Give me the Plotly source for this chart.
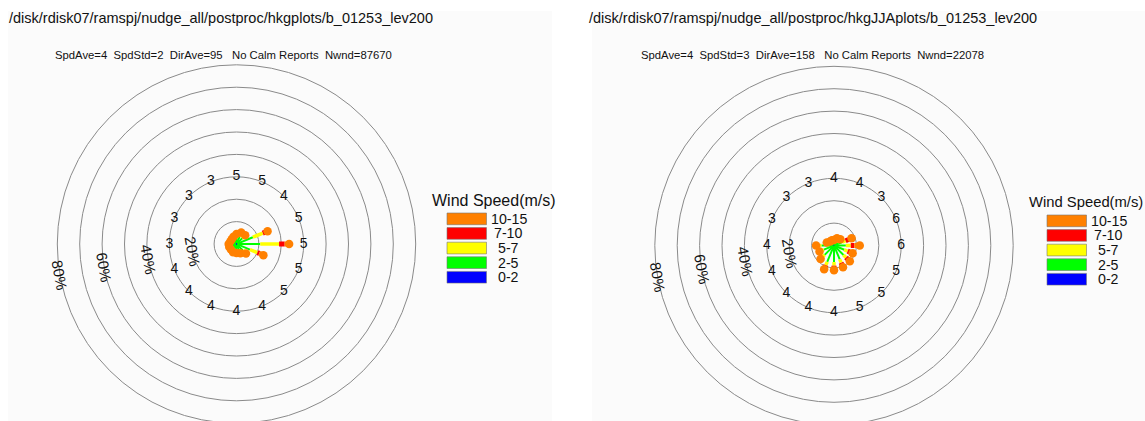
import numpy as np
import plotly.graph_objects as go

W, H = 1145, 421

# ---------------- data ----------------
directions = ["N", "NNE", "NE", "ENE", "E", "ESE", "SE", "SSE",
              "S", "SSW", "SW", "WSW", "W", "WNW", "NW", "NNW"]
dir_deg = [0, 22.5, 45, 67.5, 90, 112.5, 135, 157.5,
           180, 202.5, 225, 247.5, 270, 292.5, 315, 337.5]

speed_classes = ["0-2", "2-5", "5-7", "7-10", "10-15"]
class_colors = ["#0000ff", "#00ff00", "#ffff00", "#ff0000", "#ff8000"]

ring_pct = [10, 20, 30, 40, 50, 60, 70, 80]
ring_label_pct = [20, 40, 60, 80]
ring_label_text = ["20%", "40%", "60%", "80%"]
legend_title = "Wind Speed(m/s)"

# left panel (all data)
left_title = "/disk/rdisk07/ramspj/nudge_all/postproc/hkgplots/b_01253_lev200"
left_stats = "SpdAve=4  SpdStd=2  DirAve=95   No Calm Reports  Nwnd=87670"
left_mean_speed = [5, 5, 4, 5, 5, 5, 5, 4, 4, 4, 4, 4, 3, 3, 3, 3]
left_f02 = [0.4, 0.4, 0.4, 0.5, 0.6, 0.5, 0.4, 0.4, 0.4, 0.4, 0.4, 0.4, 0.5, 0.5, 0.5, 0.4]
left_f25 = [2.6, 3.2, 3.2, 7.4, 10.0, 6.0, 3.6, 2.8, 2.6, 2.6, 2.3, 2.3, 2.3, 2.0, 2.0, 2.3]
left_f57 = [0.7, 0.9, 0.9, 4.8, 8.4, 3.6, 1.0, 0.6, 0.5, 0.5, 0.4, 0.4, 0.4, 0.3, 0.3, 0.4]
left_f710 = [0.4, 0.5, 0.5, 1.0, 2.5, 0.9, 0.5, 0.3, 0.2, 0.2, 0.2, 0.2, 0.2, 0.1, 0.1, 0.2]
left_f1015 = [0.4, 0.5, 0.5, 1.3, 2.0, 2.0, 0.5, 0.4, 0.3, 0.3, 0.2, 0.2, 0.1, 0.1, 0.1, 0.2]

# right panel (JJA)
right_title = "/disk/rdisk07/ramspj/nudge_all/postproc/hkgJJAplots/b_01253_lev200"
right_stats = "SpdAve=4  SpdStd=3  DirAve=158   No Calm Reports  Nwnd=22078"
right_mean_speed = [4, 4, 3, 6, 6, 5, 5, 5, 4, 4, 4, 4, 4, 3, 3, 3]
right_f02 = [0.3, 0.3, 0.3, 0.3, 0.3, 0.3, 0.4, 0.4, 0.4, 0.4, 0.4, 0.4, 0.4, 0.3, 0.3, 0.3]
right_f25 = [1.0, 1.5, 1.8, 3.7, 5.0, 4.7, 5.6, 6.3, 7.0, 7.5, 5.5, 4.5, 5.2, 2.2, 1.4, 1.2]
right_f57 = [0.4, 0.5, 0.6, 1.6, 2.2, 1.6, 1.6, 1.6, 1.6, 1.6, 1.2, 1.0, 1.2, 0.4, 0.3, 0.3]
right_f710 = [0.5, 0.6, 0.6, 1.4, 1.6, 1.1, 1.1, 1.0, 0.8, 0.8, 0.6, 0.5, 0.5, 0.3, 0.3, 0.4]
right_f1015 = [0.3, 0.6, 0.7, 1.5, 2.4, 1.3, 1.3, 1.2, 1.2, 1.2, 0.8, 0.6, 0.7, 0.3, 0.2, 0.3]

# ---------------- styling / layout geometry ----------------
FONT = "Liberation Sans, Arial, Helvetica, sans-serif"
PX_PER_PCT = 2.24
class_widths = [1, 2, 3.5, 5, 5]
ring_color = "#8a8a8a"
panel_bg = "#fbfbfb"

panels = [
    dict(title=left_title, stats=left_stats, speeds=left_mean_speed,
         freqs=[left_f02, left_f25, left_f57, left_f710, left_f1015],
         cx=236.5, cy=244.0, px0=8, px1=552, title_x=7, stats_x=53,
         leg_x=430, leg_size=16, leg_box_x=447, leg_y=200, leg_box_y=213, xa="x", ya="y"),
    dict(title=right_title, stats=right_stats, speeds=right_mean_speed,
         freqs=[right_f02, right_f25, right_f57, right_f710, right_f1015],
         cx=834.0, cy=245.5, px0=592, px1=W, title_x=587, stats_x=639,
         leg_x=1027, leg_size=14.8, leg_box_x=1047, leg_y=202, leg_box_y=215, xa="x2", ya="y2"),
]

fig = go.Figure()
shapes = []
annotations = []
PY0, PY1 = 11, H

theta = np.deg2rad(np.array(dir_deg))
for i, p in enumerate(panels):
    axn = "" if i == 0 else str(i + 1)
    s = PX_PER_PCT
    xr = [(p["px0"] - p["cx"]) / s, (p["px1"] - p["cx"]) / s]
    yr = [(p["cy"] - PY1) / s, (p["cy"] - PY0) / s]
    fig.update_layout(**{
        "xaxis" + axn: dict(domain=[p["px0"] / W, p["px1"] / W], range=xr, visible=False,
                            fixedrange=True),
        "yaxis" + axn: dict(domain=[1 - PY1 / H, 1 - PY0 / H], range=yr, visible=False,
                            fixedrange=True),
    })
    # panel background
    shapes.append(dict(type="rect", xref="paper", yref="paper",
                       x0=p["px0"] / W, x1=p["px1"] / W, y0=1 - PY1 / H, y1=1 - PY0 / H,
                       fillcolor=panel_bg, line=dict(width=0), layer="below"))
    # rings
    for r in ring_pct:
        shapes.append(dict(type="circle", xref=p["xa"], yref=p["ya"],
                           x0=-r, x1=r, y0=-r, y1=r,
                           line=dict(color=ring_color, width=1), layer="below"))
    # petals
    cum = np.zeros(len(dir_deg))
    for k, cls in enumerate(speed_classes):
        f = np.array(p["freqs"][k])
        start, end = cum.copy(), cum + f
        xs, ys, ms = [], [], []
        for j in range(len(dir_deg)):
            xs += [start[j] * np.sin(theta[j]), end[j] * np.sin(theta[j]), None]
            ys += [start[j] * np.cos(theta[j]), end[j] * np.cos(theta[j]), None]
            ms += [0, 8.5, 0]
        mode = "lines+markers" if k == 4 else "lines"
        fig.add_trace(go.Scatter(
            x=xs, y=ys, mode=mode, xaxis=p["xa"], yaxis=p["ya"],
            line=dict(color=class_colors[k], width=class_widths[k]),
            marker=dict(color=class_colors[k], size=ms, opacity=1, line=dict(width=0)),
            opacity=1, showlegend=False, hoverinfo="skip"))
        cum = end
    # mean speed numbers on the 30% ring
    rn = 30
    fig.add_trace(go.Scatter(
        x=rn * np.sin(theta), y=rn * np.cos(theta), mode="text",
        text=[str(v) for v in p["speeds"]], xaxis=p["xa"], yaxis=p["ya"],
        textfont=dict(family=FONT, size=14, color="#111111"),
        showlegend=False, hoverinfo="skip"))
    # ring percentage labels
    ang = np.deg2rad(260)
    for r, t in zip(ring_label_pct, ring_label_text):
        annotations.append(dict(x=r * np.sin(ang), y=r * np.cos(ang), xref=p["xa"], yref=p["ya"],
                                text=t, showarrow=False, textangle=80,
                                font=dict(family=FONT, size=15, color="#111111")))
    # titles
    annotations.append(dict(x=p["title_x"] / W, y=1 - 18 / H, xref="paper", yref="paper",
                            xanchor="left", yanchor="middle", showarrow=False,
                            text=p["title"], font=dict(family=FONT, size=14.5, color="#111111")))
    annotations.append(dict(x=p["stats_x"] / W, y=1 - 55 / H, xref="paper", yref="paper",
                            xanchor="left", yanchor="middle", showarrow=False,
                            text=p["stats"].replace(" ", "\u00a0"),
                            font=dict(family=FONT, size=11.3, color="#111111")))
    # legend
    annotations.append(dict(x=p["leg_x"] / W, y=1 - p["leg_y"] / H, xref="paper", yref="paper",
                            xanchor="left", yanchor="middle", showarrow=False,
                            text=legend_title,
                            font=dict(family=FONT, size=p["leg_size"], color="#111111")))
    bw, bh, step = 39.5, 11.7, 14.6
    for n, k in enumerate(reversed(range(len(speed_classes)))):
        top = p["leg_box_y"] + n * step
        shapes.append(dict(type="rect", xref="paper", yref="paper",
                           x0=p["leg_box_x"] / W, x1=(p["leg_box_x"] + bw) / W,
                           y0=1 - (top + bh) / H, y1=1 - top / H,
                           fillcolor=class_colors[k], line=dict(color="#777777", width=0.6)))
        annotations.append(dict(x=(p["leg_box_x"] + bw + 22) / W, y=1 - (top + bh / 2) / H,
                                xref="paper", yref="paper", xanchor="center", yanchor="middle",
                                showarrow=False, text=speed_classes[k], borderpad=0,
                                font=dict(family=FONT, size=14.2, color="#111111")))

fig.update_layout(width=W, height=H, margin=dict(l=0, r=0, t=0, b=0),
                  paper_bgcolor="white", plot_bgcolor="rgba(0,0,0,0)",
                  shapes=shapes, annotations=annotations, showlegend=False)

fig.write_html("out.html", config={"displayModeBar": False},
               post_script="document.body.style.margin='0';document.body.style.overflow='hidden';")
